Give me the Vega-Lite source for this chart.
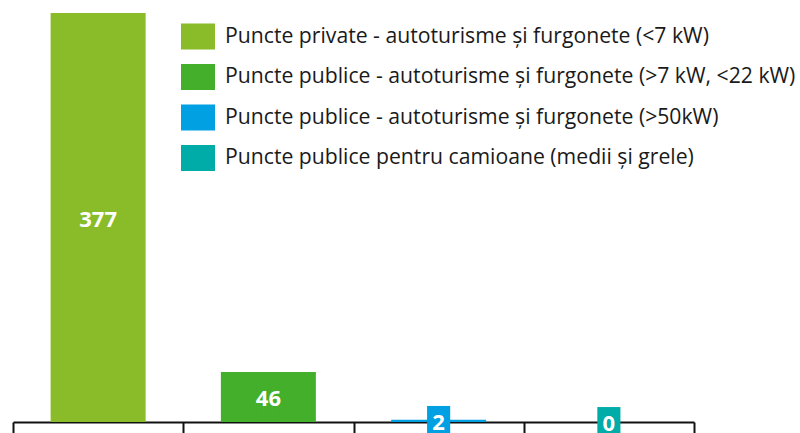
{
  "$schema": "https://vega.github.io/schema/vega-lite/v6.json",
  "width": 681,
  "height": 409,
  "autosize": {"type": "none"},
  "padding": {"left": 13, "top": 13, "right": 106, "bottom": 11},
  "background": "white",
  "config": {"view": {"stroke": null}, "font": "Open Sans"},
  "data": {
    "values": [
      {"cat": "Puncte private - autoturisme și furgonete (<7 kW)", "value": 377},
      {"cat": "Puncte publice - autoturisme și furgonete (>7 kW, <22 kW)", "value": 46},
      {"cat": "Puncte publice - autoturisme și furgonete (>50kW)", "value": 2},
      {"cat": "Puncte publice pentru camioane (medii și grele)", "value": 0}
    ]
  },
  "encoding": {
    "x": {
      "field": "cat",
      "type": "nominal",
      "sort": null,
      "scale": {"paddingInner": 0, "paddingOuter": 0},
      "axis": {
        "title": null,
        "labels": false,
        "grid": false,
        "tickBand": "extent",
        "domainColor": "#111111",
        "domainWidth": 2,
        "tickColor": "#111111",
        "tickWidth": 2,
        "tickSize": 16
      }
    },
    "color": {
      "field": "cat",
      "type": "nominal",
      "sort": null,
      "scale": {
        "domain": [
          "Puncte private - autoturisme și furgonete (<7 kW)",
          "Puncte publice - autoturisme și furgonete (>7 kW, <22 kW)",
          "Puncte publice - autoturisme și furgonete (>50kW)",
          "Puncte publice pentru camioane (medii și grele)"
        ],
        "range": ["#8ABC29", "#43AF2B", "#00A0E2", "#00ACA8"]
      },
      "legend": {
        "orient": "none",
        "legendX": 168,
        "legendY": 6.5,
        "title": null,
        "padding": 0,
        "symbolType": "M-1,-0.765L1,-0.765L1,0.765L-1,0.765Z",
        "symbolSize": 1156,
        "symbolStrokeWidth": 0,
        "symbolOpacity": 1,
        "labelFont": "Open Sans",
        "labelFontSize": 21.2,
        "labelColor": "#1a1a1a",
        "labelLimit": 800,
        "labelOffset": 10,
        "rowPadding": 9.5
      }
    }
  },
  "layer": [
    {
      "mark": {"type": "bar", "width": {"band": 0.558}},
      "encoding": {
        "y": {
          "field": "value",
          "type": "quantitative",
          "scale": {"domain": [0, 377], "nice": false},
          "axis": null
        }
      }
    },
    {
      "mark": {
        "type": "point",
        "shape": "M-0.68,-0.88L0.68,-0.88L0.68,1.12L-0.68,1.12Z",
        "size": 1156,
        "filled": true,
        "opacity": 1,
        "strokeWidth": 0
      },
      "encoding": {
        "y": {
          "field": "value",
          "type": "quantitative",
          "scale": {"domain": [0, 754], "nice": false},
          "axis": null
        }
      }
    },
    {
      "mark": {
        "type": "text",
        "fontWeight": "bold",
        "fontSize": 22,
        "font": "Open Sans",
        "dy": 2,
        "baseline": "middle"
      },
      "encoding": {
        "y": {
          "field": "value",
          "type": "quantitative",
          "scale": {"domain": [0, 754], "nice": false},
          "axis": null
        },
        "text": {"field": "value", "type": "quantitative"},
        "color": {"value": "white"}
      }
    }
  ],
  "resolve": {"scale": {"y": "independent"}}
}
